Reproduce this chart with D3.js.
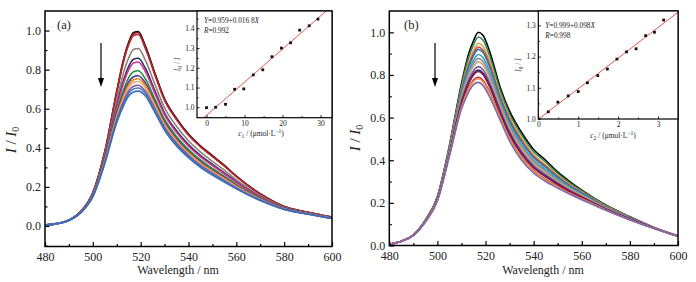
<!DOCTYPE html>
<html>
<head>
<meta charset="utf-8">
<script src="https://cdn.jsdelivr.net/npm/d3@7"></script>
<style>
  body { margin: 0; background: #fff; }
  svg { display: block; font-family: "Liberation Serif", "Times New Roman", serif; }
</style>
</head>
<body>
<div class="canvas"></div>
<script>
const FONT = "'Liberation Serif', 'Times New Roman', serif";

// wavelength grid shared by every spectrum (nm)
const wavelengths = [480, 485, 490, 495, 500, 505, 510, 513, 515, 517, 519, 522, 526, 530, 535, 540, 545, 550, 555, 560, 570, 580, 590, 600];

// panel (a) spectra, I / I0, top to bottom
const spectraA = [
  [0.005, 0.012, 0.030, 0.075, 0.170, 0.380, 0.690, 0.860, 0.940, 0.990, 0.995, 0.920, 0.780, 0.650, 0.550, 0.470, 0.410, 0.360, 0.310, 0.255, 0.165, 0.100, 0.070, 0.045],
  [0.005, 0.012, 0.030, 0.075, 0.170, 0.379, 0.687, 0.856, 0.936, 0.985, 0.990, 0.916, 0.777, 0.647, 0.548, 0.468, 0.408, 0.358, 0.309, 0.254, 0.164, 0.100, 0.070, 0.045],
  [0.005, 0.012, 0.030, 0.075, 0.169, 0.377, 0.682, 0.848, 0.927, 0.975, 0.980, 0.907, 0.770, 0.642, 0.543, 0.464, 0.405, 0.355, 0.306, 0.252, 0.163, 0.099, 0.070, 0.045],
  [0.005, 0.012, 0.029, 0.073, 0.164, 0.363, 0.644, 0.791, 0.861, 0.903, 0.908, 0.847, 0.723, 0.604, 0.510, 0.436, 0.379, 0.331, 0.286, 0.236, 0.155, 0.096, 0.067, 0.043],
  [0.005, 0.012, 0.029, 0.072, 0.161, 0.353, 0.618, 0.752, 0.817, 0.853, 0.858, 0.806, 0.690, 0.578, 0.487, 0.416, 0.361, 0.315, 0.272, 0.226, 0.149, 0.093, 0.066, 0.042],
  [0.005, 0.012, 0.029, 0.071, 0.160, 0.349, 0.608, 0.737, 0.799, 0.834, 0.839, 0.789, 0.677, 0.568, 0.478, 0.408, 0.354, 0.309, 0.266, 0.222, 0.147, 0.092, 0.065, 0.041],
  [0.005, 0.012, 0.029, 0.070, 0.157, 0.340, 0.585, 0.702, 0.759, 0.789, 0.794, 0.752, 0.648, 0.545, 0.458, 0.391, 0.338, 0.294, 0.254, 0.212, 0.142, 0.090, 0.063, 0.040],
  [0.005, 0.012, 0.029, 0.070, 0.155, 0.336, 0.572, 0.682, 0.737, 0.764, 0.769, 0.731, 0.632, 0.532, 0.446, 0.381, 0.329, 0.286, 0.247, 0.207, 0.139, 0.089, 0.063, 0.040],
  [0.005, 0.012, 0.028, 0.069, 0.154, 0.332, 0.563, 0.670, 0.722, 0.748, 0.753, 0.718, 0.622, 0.523, 0.439, 0.375, 0.323, 0.281, 0.243, 0.204, 0.137, 0.088, 0.062, 0.039],
  [0.005, 0.012, 0.028, 0.069, 0.153, 0.330, 0.556, 0.659, 0.710, 0.734, 0.739, 0.706, 0.612, 0.516, 0.433, 0.369, 0.318, 0.276, 0.239, 0.201, 0.136, 0.087, 0.062, 0.039],
  [0.005, 0.012, 0.028, 0.069, 0.152, 0.326, 0.546, 0.643, 0.692, 0.715, 0.720, 0.690, 0.599, 0.506, 0.424, 0.362, 0.311, 0.270, 0.233, 0.196, 0.133, 0.086, 0.061, 0.039],
  [0.005, 0.012, 0.028, 0.068, 0.151, 0.323, 0.538, 0.632, 0.679, 0.701, 0.706, 0.678, 0.590, 0.498, 0.417, 0.356, 0.306, 0.265, 0.229, 0.193, 0.132, 0.086, 0.061, 0.038],
  [0.005, 0.012, 0.028, 0.068, 0.150, 0.320, 0.530, 0.620, 0.665, 0.685, 0.690, 0.665, 0.580, 0.490, 0.410, 0.350, 0.300, 0.260, 0.225, 0.190, 0.130, 0.085, 0.060, 0.038]
];
const colorsA = ["#111111", "#7a1424", "#b4282e", "#8f7f70", "#27306e", "#d8358c", "#2e8a3c", "#3f3a88", "#e8822a", "#f2aa6a", "#7c58a2", "#4a7cb4", "#3a6cc0"];

// panel (b) spectra, I / I0, top to bottom
const spectraB = [
  [0.005, 0.020, 0.050, 0.120, 0.230, 0.470, 0.760, 0.900, 0.960, 1.000, 0.985, 0.900, 0.745, 0.630, 0.530, 0.450, 0.400, 0.345, 0.300, 0.260, 0.190, 0.135, 0.085, 0.045],
  [0.005, 0.020, 0.050, 0.119, 0.228, 0.465, 0.749, 0.883, 0.941, 0.978, 0.963, 0.880, 0.730, 0.617, 0.518, 0.440, 0.391, 0.338, 0.294, 0.256, 0.188, 0.134, 0.085, 0.045],
  [0.005, 0.020, 0.050, 0.118, 0.226, 0.459, 0.734, 0.861, 0.915, 0.949, 0.934, 0.854, 0.711, 0.600, 0.502, 0.426, 0.378, 0.329, 0.287, 0.250, 0.185, 0.132, 0.084, 0.045],
  [0.005, 0.020, 0.049, 0.117, 0.224, 0.455, 0.725, 0.847, 0.900, 0.931, 0.916, 0.838, 0.699, 0.589, 0.492, 0.418, 0.371, 0.323, 0.282, 0.247, 0.183, 0.131, 0.084, 0.044],
  [0.005, 0.020, 0.049, 0.117, 0.223, 0.453, 0.719, 0.839, 0.890, 0.920, 0.905, 0.829, 0.692, 0.582, 0.486, 0.413, 0.366, 0.320, 0.280, 0.245, 0.181, 0.130, 0.083, 0.044],
  [0.005, 0.020, 0.049, 0.116, 0.221, 0.448, 0.707, 0.820, 0.869, 0.896, 0.881, 0.807, 0.676, 0.568, 0.472, 0.401, 0.356, 0.312, 0.273, 0.240, 0.179, 0.128, 0.083, 0.044],
  [0.005, 0.020, 0.049, 0.115, 0.220, 0.444, 0.698, 0.807, 0.854, 0.878, 0.863, 0.791, 0.665, 0.557, 0.463, 0.393, 0.348, 0.306, 0.269, 0.237, 0.177, 0.127, 0.082, 0.044],
  [0.005, 0.020, 0.049, 0.114, 0.218, 0.441, 0.690, 0.794, 0.840, 0.862, 0.847, 0.777, 0.654, 0.548, 0.454, 0.385, 0.341, 0.301, 0.265, 0.234, 0.175, 0.126, 0.082, 0.044],
  [0.005, 0.020, 0.049, 0.113, 0.216, 0.436, 0.678, 0.777, 0.820, 0.839, 0.824, 0.756, 0.639, 0.534, 0.441, 0.375, 0.332, 0.294, 0.259, 0.229, 0.173, 0.125, 0.082, 0.044],
  [0.005, 0.020, 0.048, 0.112, 0.215, 0.432, 0.670, 0.764, 0.806, 0.823, 0.808, 0.742, 0.628, 0.525, 0.432, 0.367, 0.325, 0.289, 0.255, 0.226, 0.171, 0.124, 0.081, 0.043],
  [0.005, 0.020, 0.048, 0.112, 0.214, 0.431, 0.666, 0.759, 0.800, 0.816, 0.801, 0.736, 0.624, 0.520, 0.428, 0.364, 0.322, 0.286, 0.253, 0.225, 0.170, 0.123, 0.081, 0.043],
  [0.005, 0.020, 0.048, 0.111, 0.212, 0.425, 0.652, 0.738, 0.776, 0.789, 0.774, 0.711, 0.606, 0.504, 0.413, 0.351, 0.310, 0.278, 0.246, 0.220, 0.168, 0.122, 0.081, 0.043],
  [0.005, 0.020, 0.048, 0.111, 0.211, 0.424, 0.649, 0.733, 0.770, 0.782, 0.767, 0.705, 0.601, 0.500, 0.409, 0.348, 0.307, 0.275, 0.244, 0.218, 0.167, 0.121, 0.080, 0.043],
  [0.005, 0.020, 0.048, 0.110, 0.210, 0.420, 0.640, 0.720, 0.755, 0.765, 0.750, 0.690, 0.590, 0.490, 0.400, 0.340, 0.300, 0.270, 0.240, 0.215, 0.165, 0.120, 0.080, 0.043]
];
const colorsB = ["#000000", "#2e8b57", "#d9a13a", "#e23b3b", "#2878b8", "#3aa0b0", "#8f8f8f", "#c9a27a", "#7a5aa8", "#1f2a6b", "#8b1a3c", "#c8206a", "#f0a030", "#7b68b8"];

// insets: concentration vs I0 / I
const concA = [0, 2.4, 5.0, 7.4, 9.8, 12.3, 14.8, 17.2, 19.7, 22.1, 24.5, 27.0, 29.3];
const ratioA = [0.998, 1.000, 1.015, 1.091, 1.093, 1.164, 1.190, 1.256, 1.300, 1.327, 1.391, 1.413, 1.447];
const fitA = { a: 0.959, b: 0.0168 };

const concB = [0.25, 0.49, 0.75, 1.00, 1.23, 1.49, 1.73, 1.97, 2.21, 2.45, 2.69, 2.91, 3.14];
const ratioB = [1.023, 1.054, 1.074, 1.088, 1.116, 1.139, 1.160, 1.192, 1.215, 1.225, 1.267, 1.278, 1.317];
const fitB = { a: 0.999, b: 0.098 };

const mainXTicks = [480, 500, 520, 540, 560, 580, 600];
const mainXMinor = [490, 510, 530, 550, 570, 590];
const mainYTicks = [0.0, 0.2, 0.4, 0.6, 0.8, 1.0];
const mainYMinor = [-0.1, 0.1, 0.3, 0.5, 0.7, 0.9];

const W = 696, H = 282;
const svg = d3.select(".canvas").append("svg").attr("width", W).attr("height", H)
  .attr("font-family", FONT);

function styleAxis(sel, size) {
  sel.attr("font-family", FONT);
  sel.select(".domain").remove();
  sel.selectAll(".tick line").attr("stroke", "#000");
  sel.selectAll(".tick text").attr("font-size", size).attr("fill", "#222");
}

function drawMain(cfg) {
  const x = d3.scaleLinear().domain([480, 600]).range([cfg.left, cfg.right]);
  const y = d3.scaleLinear().domain(cfg.yDomain).range([cfg.bottom, cfg.top]);
  const g = svg.append("g");

  const clipId = "clip-" + cfg.name;
  g.append("clipPath").attr("id", clipId).append("rect")
    .attr("x", cfg.left).attr("y", cfg.top)
    .attr("width", cfg.right - cfg.left).attr("height", cfg.bottom - cfg.top);

  const line = d3.line()
    .x((d, i) => x(wavelengths[i]))
    .y(d => y(d))
    .curve(d3.curveMonotoneX);

  g.append("g").attr("clip-path", `url(#${clipId})`)
    .selectAll("path").data(cfg.spectra).join("path")
    .attr("fill", "none")
    .attr("stroke", (d, i) => cfg.colors[i])
    .attr("stroke-width", 1.6)
    .attr("d", line);

  // axes, ticks pointing inwards
  const inY = v => v >= cfg.yDomain[0] && v <= cfg.yDomain[1];
  const xAxis = d3.axisBottom(x).tickValues(mainXTicks).tickFormat(d3.format("d"))
    .tickSizeInner(-4.5).tickSizeOuter(0).tickPadding(5.5);
  const xMinor = d3.axisBottom(x).tickValues(mainXMinor).tickFormat("").tickSizeInner(-2.5).tickSizeOuter(0);
  const yAxis = d3.axisLeft(y).tickValues(mainYTicks).tickFormat(d3.format(".1f"))
    .tickSizeInner(-4.5).tickSizeOuter(0).tickPadding(4);
  const yMinor = d3.axisLeft(y).tickValues(mainYMinor.filter(inY)).tickFormat("").tickSizeInner(-2.5).tickSizeOuter(0);

  g.append("g").attr("transform", `translate(0,${cfg.bottom})`).call(xAxis).call(styleAxis, 12);
  g.append("g").attr("transform", `translate(0,${cfg.bottom})`).call(xMinor).call(styleAxis, 12);
  g.append("g").attr("transform", `translate(${cfg.left},0)`).call(yAxis).call(styleAxis, 12);
  g.append("g").attr("transform", `translate(${cfg.left},0)`).call(yMinor).call(styleAxis, 12);
  g.selectAll(".tick line").attr("stroke-width", 1.2);

  g.append("rect")
    .attr("x", cfg.left).attr("y", cfg.top)
    .attr("width", cfg.right - cfg.left).attr("height", cfg.bottom - cfg.top)
    .attr("fill", "none").attr("stroke", "#000").attr("stroke-width", 1.5);

  // axis titles
  g.append("text")
    .attr("x", cfg.titleX).attr("y", 274)
    .attr("text-anchor", "middle").attr("font-size", 12).attr("fill", "#222")
    .text("Wavelength / nm");

  const yl = g.append("text")
    .attr("transform", `translate(${cfg.left - 29},${cfg.yTitleY}) rotate(-90)`)
    .attr("text-anchor", "middle").attr("font-size", 15).attr("fill", "#222");
  yl.append("tspan").attr("font-style", "italic").text("I");
  yl.append("tspan").text(" / ");
  yl.append("tspan").attr("font-style", "italic").text("I");
  yl.append("tspan").attr("font-size", 10).attr("dy", 3).text("0");

  g.append("text").attr("x", cfg.labelX).attr("y", 29)
    .attr("font-size", 12.5).attr("fill", "#222").text(cfg.label);

  // downward arrow
  g.append("line").attr("x1", cfg.arrowX).attr("x2", cfg.arrowX).attr("y1", 43).attr("y2", 80)
    .attr("stroke", "#000").attr("stroke-width", 1.2);
  g.append("path")
    .attr("d", `M${cfg.arrowX - 3},78 L${cfg.arrowX + 3},78 L${cfg.arrowX},87 Z`)
    .attr("fill", "#000");
}

function drawInset(cfg) {
  const x = d3.scaleLinear().domain(cfg.xDomain).range([cfg.left, cfg.right]);
  const y = d3.scaleLinear().domain(cfg.yDomain).range([cfg.bottom, cfg.top]);
  const g = svg.append("g");

  g.append("rect")
    .attr("x", cfg.left).attr("y", cfg.top)
    .attr("width", cfg.right - cfg.left).attr("height", cfg.bottom - cfg.top)
    .attr("fill", "#fff");

  const clipId = "clip-" + cfg.name;
  g.append("clipPath").attr("id", clipId).append("rect")
    .attr("x", cfg.left).attr("y", cfg.top)
    .attr("width", cfg.right - cfg.left).attr("height", cfg.bottom - cfg.top);

  g.append("line").attr("clip-path", `url(#${clipId})`)
    .attr("x1", x(cfg.xDomain[0])).attr("y1", y(cfg.fit.a + cfg.fit.b * cfg.xDomain[0]))
    .attr("x2", x(cfg.xDomain[1])).attr("y2", y(cfg.fit.a + cfg.fit.b * cfg.xDomain[1]))
    .attr("stroke", "#e0453c").attr("stroke-width", 0.9);

  g.selectAll("rect.pt").data(cfg.xs).join("rect")
    .attr("class", "pt")
    .attr("x", (d) => x(d) - 1.4).attr("y", (d, i) => y(cfg.ys[i]) - 1.4)
    .attr("width", 2.8).attr("height", 2.8).attr("fill", "#111");

  const xAxis = d3.axisBottom(x).tickValues(cfg.xTicks).tickFormat(d3.format("d"))
    .tickSizeInner(-2.5).tickSizeOuter(0).tickPadding(2.5);
  const xMinor = d3.axisBottom(x).tickValues(cfg.xMinor).tickFormat("").tickSizeInner(-1.5).tickSizeOuter(0);
  const yAxis = d3.axisLeft(y).tickValues(cfg.yTicks).tickFormat(d3.format(".1f"))
    .tickSizeInner(-2.5).tickSizeOuter(0).tickPadding(2.5);
  const yMinor = d3.axisLeft(y).tickValues(cfg.yMinor).tickFormat("").tickSizeInner(-1.5).tickSizeOuter(0);
  g.append("g").attr("transform", `translate(0,${cfg.bottom})`).call(xAxis).call(styleAxis, 7.5);
  g.append("g").attr("transform", `translate(0,${cfg.bottom})`).call(xMinor).call(styleAxis, 7.5);
  g.append("g").attr("transform", `translate(${cfg.left},0)`).call(yAxis).call(styleAxis, 7.5);
  g.append("g").attr("transform", `translate(${cfg.left},0)`).call(yMinor).call(styleAxis, 7.5);
  g.selectAll(".tick line").attr("stroke-width", 0.9);

  g.append("rect")
    .attr("x", cfg.left).attr("y", cfg.top)
    .attr("width", cfg.right - cfg.left).attr("height", cfg.bottom - cfg.top)
    .attr("fill", "none").attr("stroke", "#000").attr("stroke-width", 1.2);

  // fit equation
  const eq = g.append("text").attr("x", cfg.left + 7).attr("y", cfg.eqY).attr("font-size", 7.3).attr("fill", "#222");
  eq.append("tspan").attr("font-style", "italic").text("Y");
  eq.append("tspan").text(cfg.eq);
  eq.append("tspan").attr("font-style", "italic").text("X");
  const rr = g.append("text").attr("x", cfg.left + 7).attr("y", cfg.eqY + 10).attr("font-size", 7.3).attr("fill", "#222");
  rr.append("tspan").attr("font-style", "italic").text("R");
  rr.append("tspan").text(cfg.r);

  // axis titles
  const xl = g.append("text")
    .attr("x", cfg.xTitleX).attr("y", cfg.bottom + 18.5)
    .attr("text-anchor", "middle").attr("font-size", 7.5).attr("fill", "#222");
  xl.append("tspan").attr("font-style", "italic").text("c");
  xl.append("tspan").attr("font-size", 5.5).attr("dy", 2).text(cfg.sub);
  xl.append("tspan").attr("dy", -2).text(" / (\u03bcmol\u00b7L");
  xl.append("tspan").attr("font-size", 5.5).attr("dy", -3).text("\u22121");
  xl.append("tspan").attr("dy", 3).text(")");

  const yl = g.append("text")
    .attr("transform", `translate(${cfg.left - 17},${(cfg.top + cfg.bottom) / 2}) rotate(-90)`)
    .attr("text-anchor", "middle").attr("font-size", 7.5).attr("fill", "#222");
  yl.append("tspan").attr("font-style", "italic").text("I");
  yl.append("tspan").attr("font-size", 5.5).attr("dy", 2).text("0");
  yl.append("tspan").attr("dy", -2).text(" / ");
  yl.append("tspan").attr("font-style", "italic").text("I");
}

drawMain({
  name: "a", label: "(a)", labelX: 57, left: 45, right: 332, top: 11, bottom: 246.5,
  titleX: 178, yTitleY: 140,
  yDomain: [-0.105, 1.1], spectra: spectraA, colors: colorsA, arrowX: 101
});
drawMain({
  name: "b", label: "(b)", labelX: 404, left: 389.3, right: 678, top: 11, bottom: 245.5,
  titleX: 543, yTitleY: 138,
  yDomain: [0, 1.1], spectra: spectraB, colors: colorsB, arrowX: 435
});

drawInset({
  name: "ia", left: 197, right: 332, top: 11, bottom: 117.7, xTitleX: 261,
  xDomain: [-2.5, 33], yDomain: [0.947, 1.488],
  xTicks: [0, 10, 20, 30], xMinor: [5, 15, 25],
  yTicks: [1.0, 1.1, 1.2, 1.3, 1.4], yMinor: [1.05, 1.15, 1.25, 1.35, 1.45],
  xs: concA, ys: ratioA, fit: fitA, sub: "1",
  eq: "=0.959+0.016 8", r: "=0.992", eqY: 23
});
drawInset({
  name: "ib", left: 538.3, right: 678, top: 11, bottom: 119, xTitleX: 613,
  xDomain: [0, 3.5], yDomain: [1.0, 1.346],
  xTicks: [0, 1, 2, 3], xMinor: [0.5, 1.5, 2.5],
  yTicks: [1.0, 1.1, 1.2, 1.3], yMinor: [1.05, 1.15, 1.25],
  xs: concB, ys: ratioB, fit: fitB, sub: "2",
  eq: "=0.999+0.098", r: "=0.998", eqY: 28
});
</script>
</body>
</html>
